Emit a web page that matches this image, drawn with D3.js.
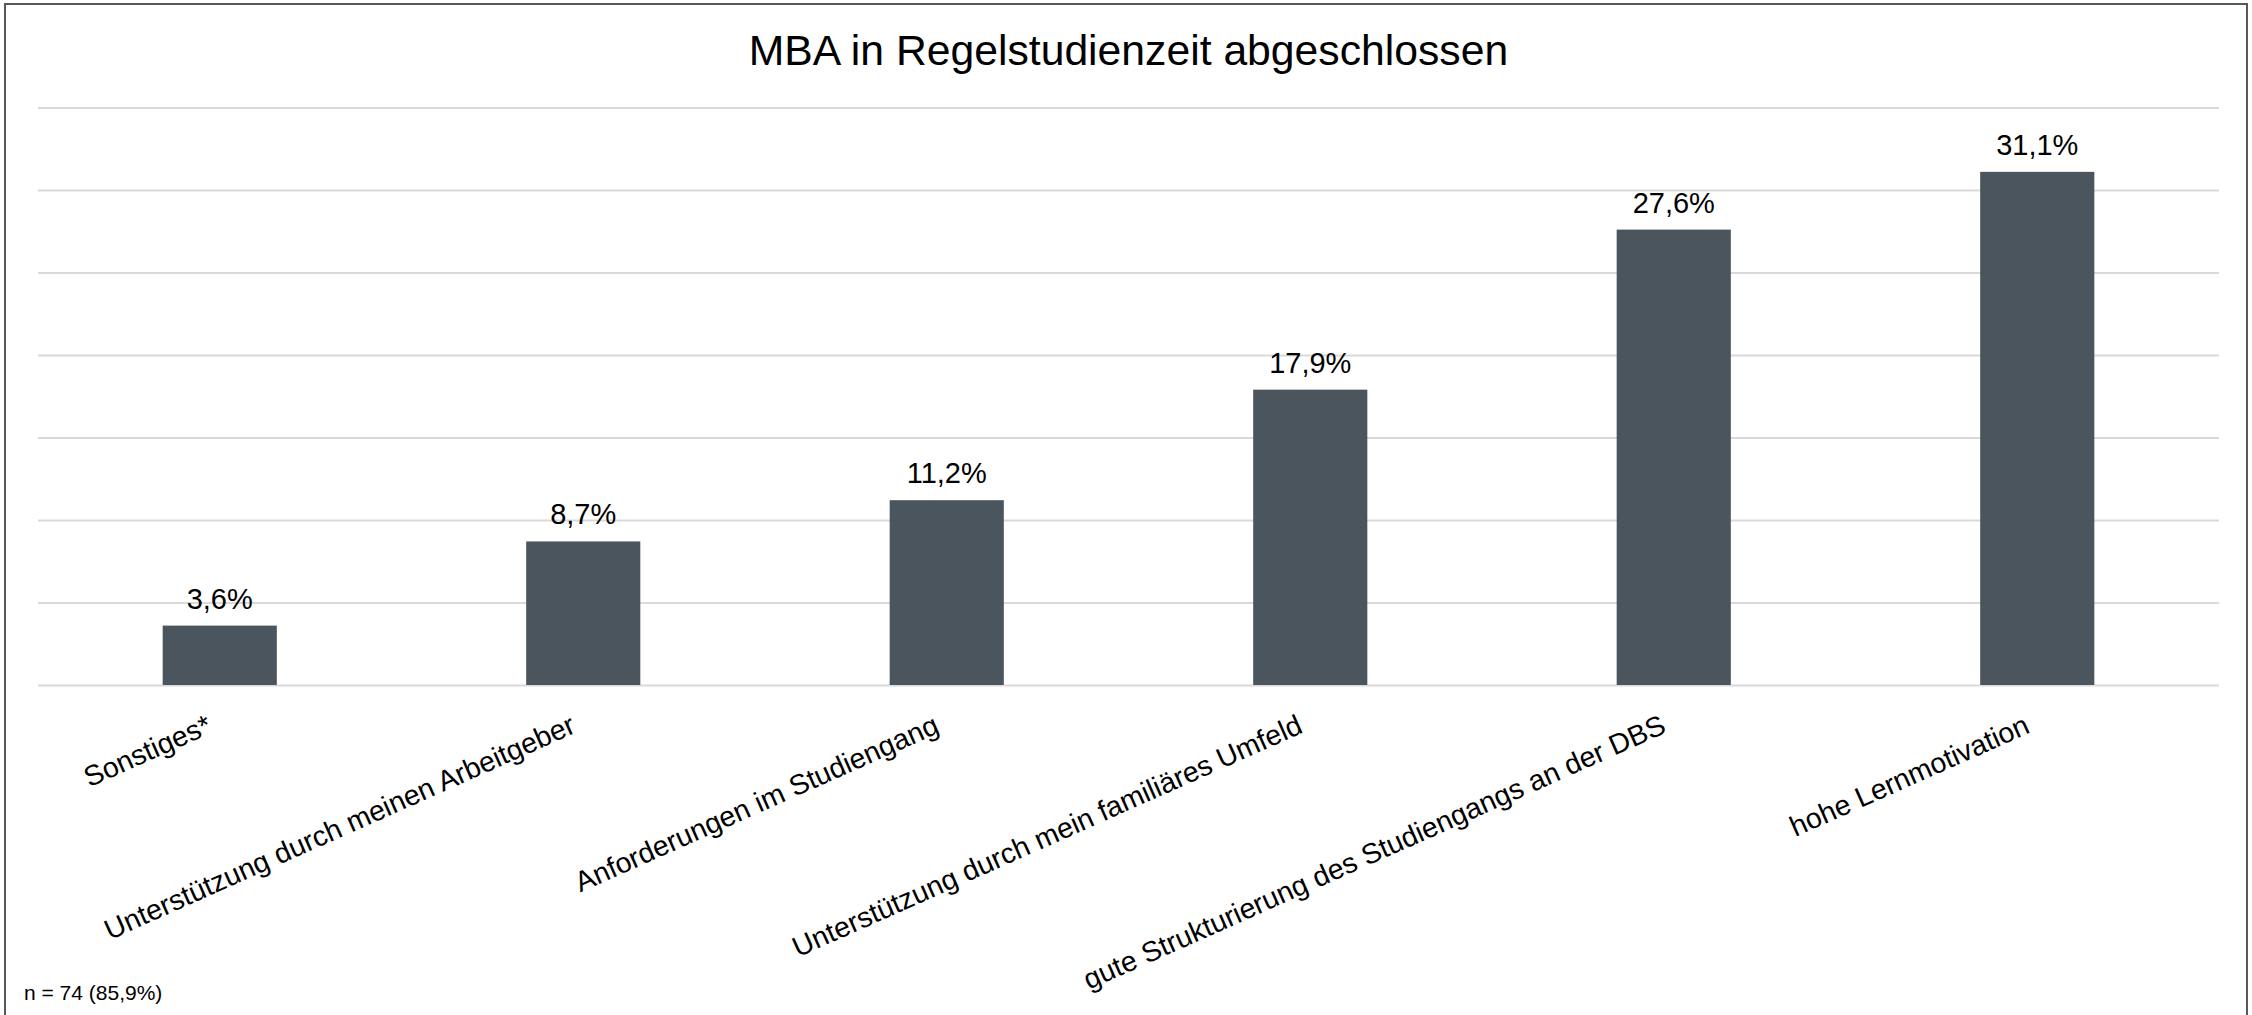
<!DOCTYPE html>
<html>
<head>
<meta charset="utf-8">
<script src="https://cdn.jsdelivr.net/npm/d3@7"></script>
<style>
  body { margin: 0; background: #fff; }
  svg { display: block; font-family: "Liberation Sans", Arial, sans-serif; }
</style>
</head>
<body>
<div id="chart"></div>
<script>
// chart data
var chartTitle = "MBA in Regelstudienzeit abgeschlossen";
var categories = [
  "Sonstiges*",
  "Unterstützung durch meinen Arbeitgeber",
  "Anforderungen im Studiengang",
  "Unterstützung durch mein familiäres Umfeld",
  "gute Strukturierung des Studiengangs an der DBS",
  "hohe Lernmotivation"
];
var values = [3.6, 8.7, 11.2, 17.9, 27.6, 31.1];
var gridTicks = [0, 5, 10, 15, 20, 25, 30, 35];
var noteText = "n = 74 (85,9%)";

var width = 2252,
    height = 1015,
    plot = {left: 38, right: 2219, top: 107.5, bottom: 685};

var svg = d3.select("#chart").append("svg")
  .attr("width", width)
  .attr("height", height);

// outer frame
svg.append("rect")
  .attr("x", 5).attr("y", 4)
  .attr("width", 2242).attr("height", 1030)
  .attr("fill", "#fff")
  .attr("stroke", "#55595c")
  .attr("stroke-width", 2);

var x = d3.scaleBand()
  .domain(categories)
  .range([plot.left, plot.right])
  .paddingInner(0.686)
  .paddingOuter(0.343);

var y = d3.scaleLinear()
  .domain([0, 35])
  .range([plot.bottom, plot.top]);

// gridlines (no tick labels in the original)
svg.append("g")
  .attr("transform", "translate(" + plot.left + ",0)")
  .call(d3.axisLeft(y)
    .tickValues(gridTicks)
    .tickSize(-(plot.right - plot.left))
    .tickFormat(""))
  .call(function(g) {
    g.select(".domain").remove();
    g.selectAll(".tick line").attr("stroke", "#d9d9d9").attr("stroke-width", 2);
  });

svg.append("text")
  .attr("x", (plot.left + plot.right) / 2)
  .attr("y", 65)
  .attr("text-anchor", "middle")
  .attr("font-size", 42.7)
  .attr("fill", "#000")
  .text(chartTitle);

// bars
svg.selectAll("rect.bar")
  .data(values)
  .enter().append("rect")
  .attr("class", "bar")
  .attr("x", function(d, i) { return x(categories[i]); })
  .attr("width", x.bandwidth())
  .attr("y", function(d) { return y(d); })
  .attr("height", function(d) { return y(0) - y(d); })
  .attr("fill", "#4b555e");

// value labels
svg.selectAll("text.val")
  .data(values)
  .enter().append("text")
  .attr("class", "val")
  .attr("x", function(d, i) { return x(categories[i]) + x.bandwidth() / 2; })
  .attr("y", function(d) { return y(d) - 17; })
  .attr("text-anchor", "middle")
  .attr("font-size", 29)
  .attr("fill", "#000")
  .text(function(d) { return d3.format(".1f")(d).replace(".", ",") + "%"; });

// category labels, rotated
svg.selectAll("text.cat")
  .data(categories)
  .enter().append("text")
  .attr("class", "cat")
  .attr("transform", function(d) {
    var cx = x(d) + x.bandwidth() / 2 - 6;
    return "translate(" + cx + "," + (plot.bottom + 47) + ") rotate(-24)";
  })
  .attr("text-anchor", "end")
  .attr("font-size", 28.5)
  .attr("fill", "#000")
  .text(function(d) { return d; });

svg.append("text")
  .attr("x", 24)
  .attr("y", 1000)
  .attr("font-size", 21)
  .attr("fill", "#000")
  .text(noteText);
</script>
</body>
</html>
